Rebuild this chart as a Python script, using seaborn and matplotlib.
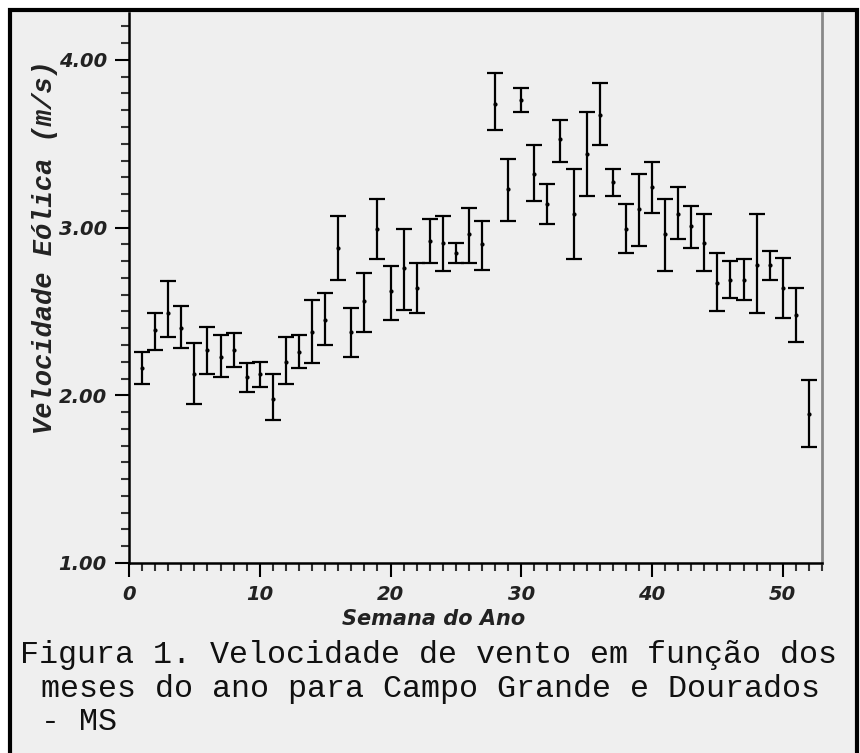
import numpy as np
import pandas as pd
import matplotlib
matplotlib.use("Agg")
import matplotlib.pyplot as plt
from matplotlib.ticker import MultipleLocator, FormatStrFormatter
from matplotlib.patches import Rectangle
import seaborn as sns

# Dados (semana, limite inferior, média, limite superior)
semana = list(range(1, 53))
media = [2.16, 2.39, 2.49, 2.40, 2.13, 2.27, 2.23, 2.27, 2.11, 2.13,
         1.98, 2.20, 2.26, 2.38, 2.45, 2.88, 2.38, 2.56, 2.99, 2.62,
         2.76, 2.64, 2.92, 2.91, 2.85, 2.96, 2.90, 3.74, 3.23, 3.76,
         3.32, 3.14, 3.53, 3.08, 3.44, 3.67, 3.27, 2.99, 3.11, 3.24,
         2.96, 3.08, 3.01, 2.91, 2.67, 2.69, 2.69, 2.78, 2.78, 2.64,
         2.48, 1.89]
inferior = [2.07, 2.27, 2.35, 2.28, 1.95, 2.13, 2.11, 2.17, 2.02, 2.05,
            1.85, 2.07, 2.16, 2.19, 2.30, 2.69, 2.23, 2.38, 2.81, 2.45,
            2.51, 2.49, 2.79, 2.74, 2.79, 2.79, 2.75, 3.58, 3.04, 3.69,
            3.16, 3.02, 3.39, 2.81, 3.19, 3.49, 3.19, 2.85, 2.89, 3.09,
            2.74, 2.93, 2.88, 2.74, 2.50, 2.58, 2.57, 2.49, 2.69, 2.46,
            2.32, 1.69]
superior = [2.26, 2.49, 2.68, 2.53, 2.31, 2.41, 2.36, 2.37, 2.19, 2.20,
            2.13, 2.35, 2.36, 2.57, 2.61, 3.07, 2.52, 2.73, 3.17, 2.77,
            2.99, 2.79, 3.05, 3.07, 2.91, 3.12, 3.04, 3.92, 3.41, 3.83,
            3.49, 3.26, 3.64, 3.35, 3.69, 3.86, 3.35, 3.14, 3.32, 3.39,
            3.17, 3.24, 3.13, 3.08, 2.85, 2.80, 2.81, 3.08, 2.86, 2.82,
            2.64, 2.09]

# formato longo: mediana = média, intervalo 0-100% = limites
df = pd.concat([
    pd.DataFrame({"semana": semana, "vel": inferior}),
    pd.DataFrame({"semana": semana, "vel": media}),
    pd.DataFrame({"semana": semana, "vel": superior}),
])

sns.set_style("ticks")
fundo = "#efefef"

fig = plt.figure(figsize=(8.6, 7.53), dpi=100, facecolor="white")
# moldura da página digitalizada
fig.patches.append(Rectangle((10/860, -0.02), 847/860, 1 - 10/753 + 0.02,
                             transform=fig.transFigure, facecolor=fundo,
                             edgecolor="black", lw=3, zorder=-5))

ax = fig.add_axes([129/860, 1 - 563/753, (822 - 129)/860, (563 - 13)/753])
ax.patch.set_alpha(0)

sns.lineplot(data=df, x="semana", y="vel", estimator="median",
             errorbar=("pi", 100), err_style="bars", color="black",
             linestyle="", marker="o", markersize=3, markeredgewidth=0,
             err_kws={"capsize": 6, "elinewidth": 1.6, "capthick": 1.6},
             ax=ax)

ax.set_xlim(0, 53)
ax.set_ylim(1.0, 4.28)
ax.xaxis.set_major_locator(MultipleLocator(10))
ax.xaxis.set_minor_locator(MultipleLocator(1))
ax.yaxis.set_major_locator(MultipleLocator(1))
ax.yaxis.set_minor_locator(MultipleLocator(0.1))
ax.yaxis.set_major_formatter(FormatStrFormatter("%.2f"))

ax.tick_params(which="major", direction="out", length=10, width=1.5,
               color="black", pad=6)
ax.tick_params(which="minor", direction="out", length=6, width=1.5,
               color="#333333")
for lab in ax.get_xticklabels() + ax.get_yticklabels():
    lab.set_fontstyle("italic")
    lab.set_fontweight("bold")
    lab.set_fontsize(14)
    lab.set_color("#222222")

for s in ["left", "bottom"]:
    ax.spines[s].set_linewidth(1.8)
    ax.spines[s].set_color("black")
ax.spines["right"].set_color("#888888")
ax.spines["right"].set_linewidth(2)
ax.spines["top"].set_visible(False)

ax.set_xlabel("Semana do Ano", fontsize=15, fontstyle="italic",
              fontweight="bold", color="#222222")
ax.xaxis.set_label_coords((434 - 129)/(822 - 129), -(609 - 563)/550)
ax.set_ylabel("Velocidade Eólica (m/s)", fontsize=19.5, fontstyle="italic",
              fontweight="bold", family="Liberation Mono", color="#222222")
ax.yaxis.set_label_coords(-(129 - 58)/693, (563 - 247)/550)

# legenda da figura
leg = dict(family="Liberation Mono", fontsize=22.9, color="#111111",
           va="center", ha="left")
fig.text(20/860, 1 - 655/753, "Figura 1. Velocidade de vento em função dos", **leg)
fig.text(41/860, 1 - 689/753, "meses do ano para Campo Grande e Dourados", **leg)
fig.text(41/860, 1 - 722/753, "- MS", **leg)

fig.savefig("out.png", dpi=100, facecolor="white")
